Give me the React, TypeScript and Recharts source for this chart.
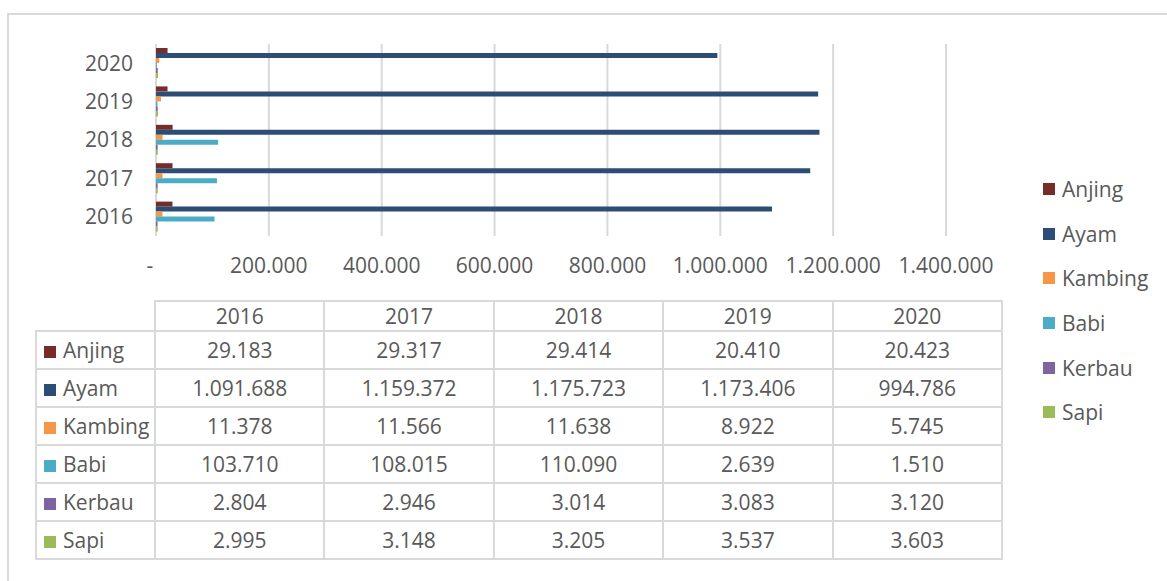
import React from 'react';
import { BarChart, Bar, XAxis, YAxis, CartesianGrid } from 'recharts';

const years = ['2016', '2017', '2018', '2019', '2020'];
const anjing = [29183, 29317, 29414, 20410, 20423];
const ayam = [1091688, 1159372, 1175723, 1173406, 994786];
const kambing = [11378, 11566, 11638, 8922, 5745];
const babi = [103710, 108015, 110090, 2639, 1510];
const kerbau = [2804, 2946, 3014, 3083, 3120];
const sapi = [2995, 3148, 3205, 3537, 3603];

const seriesNames = ['Anjing', 'Ayam', 'Kambing', 'Babi', 'Kerbau', 'Sapi'];
const seriesValues = [anjing, ayam, kambing, babi, kerbau, sapi];
const seriesColors = ['#772C2A', '#2C4D75', '#F79646', '#4BACC6', '#8064A2', '#9BBB59'];
const xTicks = [0, 200000, 400000, 600000, 800000, 1000000, 1200000, 1400000];

const fmt = (v: number) => (v === 0 ? '-' : String(v).replace(/\B(?=(\d{3})+(?!\d))/g, '.'));

const chartData = years
  .map((y, i) => {
    const row: Record<string, string | number> = { year: y };
    seriesNames.forEach((n, s) => {
      row[n] = seriesValues[s][i];
    });
    return row;
  })
  .reverse();

const FONT = "'Open Sans', 'Liberation Sans', sans-serif";
const TEXT = '#595959';
const BORDER = '#d9d9d9';
const FS = 21;

const XTick = (props: any) => {
  const { x, y, payload } = props;
  const v = payload.value as number;
  return (
    <text x={v === 0 ? x - 6 : x} y={y} dy="0.71em" textAnchor="middle" fill={TEXT} fontSize={FS} fontFamily={FONT}>
      {fmt(v)}
    </text>
  );
};

export default function App() {
  const cellBorder = `2px solid ${BORDER}`;
  return (
    <div style={{ position: 'absolute', left: 0, top: 0, width: 1167, height: 581, overflow: 'hidden', background: '#fff', fontFamily: FONT }}>
      <div style={{ position: 'absolute', left: 7, top: 13, width: 1300, height: 700, border: `2px solid ${BORDER}` }} />
      <div style={{ position: 'absolute', left: 0, top: 0 }}>
        <BarChart
          width={1167}
          height={300}
          data={chartData}
          layout="vertical"
          margin={{ top: 44, right: 221, left: 0, bottom: 24 }}
          barGap={0}
          barCategoryGap={4}
        >
          <CartesianGrid horizontal={false} vertical={true} stroke={BORDER} strokeWidth={2} />
          <XAxis
            type="number"
            domain={[0, 1400000]}
            ticks={xTicks}
            axisLine={false}
            tickLine={false}
            height={40}
            tickMargin={16}
            interval={0}
            tick={<XTick />}
          />
          <YAxis
            type="category"
            dataKey="year"
            width={156}
            axisLine={false}
            tickLine={false}
            tickMargin={17}
            tick={{ fill: TEXT, fontSize: FS, fontFamily: FONT }}
          />
          {seriesNames.map((n, i) => (
            <Bar key={n} dataKey={n} fill={seriesColors[i]} isAnimationActive={false} />
          ))}
        </BarChart>
      </div>

      {/* Legend */}
      <div style={{ position: 'absolute', left: 1043, top: 167 }}>
        {seriesNames.map((n, i) => (
          <div key={n} style={{ height: 44.6, display: 'flex', alignItems: 'center', color: TEXT, fontSize: FS }}>
            <span style={{ display: 'inline-block', width: 12, height: 12, background: seriesColors[i], marginRight: 7 }} />
            {n}
          </div>
        ))}
      </div>

      {/* Data table */}
      <table
        style={{
          position: 'absolute',
          left: 35,
          top: 300,
          borderCollapse: 'collapse',
          fontFamily: FONT,
          fontSize: FS,
          color: TEXT,
          tableLayout: 'fixed',
        }}
      >
        <tbody>
          <tr style={{ height: 30 }}>
            <td style={{ width: 118, padding: 0 }} />
            {years.map((y) => (
              <td key={y} style={{ width: 167.4, border: cellBorder, textAlign: 'center', padding: 0 }}>
                {y}
              </td>
            ))}
          </tr>
          {seriesNames.map((n, s) => (
            <tr key={n} style={{ height: 38 }}>
              <td style={{ border: cellBorder, padding: '0 0 0 7px', whiteSpace: 'nowrap' }}>
                <span style={{ display: 'inline-block', width: 12, height: 12, background: seriesColors[s], marginRight: 7 }} />
                {n}
              </td>
              {seriesValues[s].map((v, i) => (
                <td key={i} style={{ border: cellBorder, textAlign: 'center', padding: 0 }}>
                  {fmt(v)}
                </td>
              ))}
            </tr>
          ))}
        </tbody>
      </table>
    </div>
  );
}
